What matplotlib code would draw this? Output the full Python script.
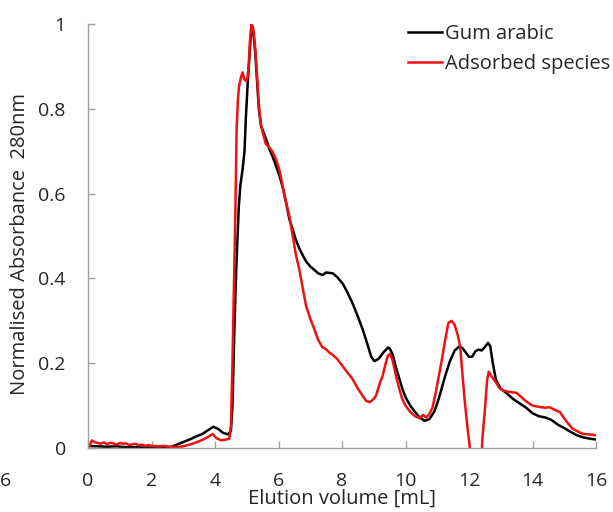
import numpy as np
import matplotlib.pyplot as plt

plt.rcParams['font.family'] = ['Open Sans', 'DejaVu Sans']

# elution profiles, normalised absorbance at 280 nm
vol_gum = [0.0, 0.3, 0.6, 0.9, 1.2, 1.5, 1.8, 2.1, 2.4, 2.6, 2.8, 3.0, 3.2, 3.4, 3.6, 3.8,
           3.95, 4.1, 4.25, 4.4, 4.5, 4.55, 4.6, 4.65, 4.7, 4.75, 4.8, 4.87, 4.93, 4.97,
           5.03, 5.08, 5.15, 5.2, 5.27, 5.33, 5.38, 5.45, 5.55, 5.65, 5.71, 5.8, 5.9, 6.03,
           6.15, 6.25, 6.34, 6.45, 6.55, 6.66, 6.76, 6.87, 7.0, 7.13, 7.25, 7.39, 7.5, 7.6,
           7.71, 7.85, 8.02, 8.15, 8.34, 8.5, 8.65, 8.8, 8.92, 9.02, 9.15, 9.3, 9.45, 9.5,
           9.6, 9.7, 9.8, 9.9, 10.0, 10.15, 10.3, 10.45, 10.6, 10.75, 10.9, 11.0, 11.1,
           11.25, 11.4, 11.55, 11.7, 11.8, 11.9, 12.0, 12.1, 12.2, 12.3, 12.4, 12.5, 12.6,
           12.67, 12.75, 12.85, 13.0, 13.2, 13.4, 13.6, 13.8, 14.0, 14.2, 14.4, 14.6, 14.8,
           15.0, 15.2, 15.4, 15.6, 15.8, 16.0]
abs_gum = [0.005, 0.004, 0.003, 0.004, 0.002, 0.002, 0.001, 0.001, 0.001, 0.002, 0.008,
           0.014, 0.020, 0.027, 0.033, 0.043, 0.050, 0.045, 0.036, 0.032, 0.040, 0.10, 0.25,
           0.38, 0.48, 0.57, 0.62, 0.658, 0.70, 0.776, 0.86, 0.917, 1.0, 0.985, 0.93, 0.86,
           0.80, 0.76, 0.74, 0.72, 0.705, 0.69, 0.67, 0.642, 0.61, 0.575, 0.54, 0.515, 0.49,
           0.47, 0.455, 0.44, 0.428, 0.42, 0.412, 0.408, 0.414, 0.413, 0.412, 0.403, 0.388,
           0.37, 0.34, 0.31, 0.28, 0.245, 0.215, 0.205, 0.21, 0.225, 0.237, 0.235, 0.22,
           0.19, 0.165, 0.14, 0.12, 0.10, 0.085, 0.072, 0.064, 0.068, 0.085, 0.105, 0.13,
           0.17, 0.205, 0.23, 0.24, 0.235, 0.225, 0.215, 0.215, 0.228, 0.232, 0.23, 0.238,
           0.248, 0.24, 0.20, 0.16, 0.14, 0.128, 0.115, 0.105, 0.095, 0.082, 0.075, 0.072,
           0.066, 0.055, 0.047, 0.038, 0.03, 0.025, 0.022, 0.02]

vol_ads = [0.0, 0.05, 0.12, 0.2, 0.3, 0.4, 0.5, 0.6, 0.7, 0.8, 0.9, 1.0, 1.1, 1.2, 1.3, 1.4,
           1.5, 1.6, 1.7, 1.8, 1.9, 2.0, 2.2, 2.4, 2.6, 2.8, 3.0, 3.2, 3.4, 3.6, 3.8, 3.92,
           4.05, 4.2, 4.35, 4.45, 4.5, 4.55, 4.6, 4.64, 4.68, 4.72, 4.76, 4.82, 4.87, 4.92,
           4.97, 5.02, 5.06, 5.1, 5.15, 5.2, 5.25, 5.29, 5.33, 5.37, 5.43, 5.5, 5.6, 5.7,
           5.8, 5.87, 5.95, 6.03, 6.1, 6.2, 6.34, 6.45, 6.55, 6.66, 6.78, 6.87, 7.0, 7.13,
           7.25, 7.38, 7.5, 7.6, 7.7, 7.85, 8.0, 8.15, 8.33, 8.5, 8.65, 8.75, 8.86, 8.95,
           9.07, 9.2, 9.28, 9.36, 9.44, 9.52, 9.6, 9.7, 9.8, 9.9, 10.0, 10.15, 10.3, 10.45,
           10.55, 10.65, 10.75, 10.85, 10.95, 11.05, 11.15, 11.25, 11.35, 11.45, 11.55,
           11.65, 11.72, 11.8, 11.86, 11.95, 12.02, 12.1, 12.38, 12.42, 12.5, 12.57, 12.62,
           12.7, 12.8, 12.97, 13.1, 13.3, 13.5, 13.65, 13.8, 14.0, 14.2, 14.4, 14.54, 14.7,
           14.86, 15.0, 15.15, 15.27, 15.45, 15.6, 15.8, 16.0]
abs_ads = [0.0, 0.005, 0.018, 0.014, 0.012, 0.010, 0.013, 0.009, 0.012, 0.011, 0.008,
           0.012, 0.010, 0.011, 0.007, 0.009, 0.010, 0.006, 0.008, 0.005, 0.007, 0.005,
           0.004, 0.005, 0.003, 0.002, 0.004, 0.008, 0.013, 0.019, 0.027, 0.033, 0.023,
           0.018, 0.02, 0.022, 0.05, 0.2, 0.4, 0.55, 0.75, 0.82, 0.855, 0.875, 0.886, 0.87,
           0.866, 0.872, 0.90, 0.96, 1.0, 0.99, 0.96, 0.92, 0.87, 0.82, 0.77, 0.745, 0.717,
           0.71, 0.70, 0.69, 0.675, 0.655, 0.63, 0.59, 0.548, 0.50, 0.455, 0.42, 0.37,
           0.335, 0.305, 0.28, 0.255, 0.238, 0.233, 0.225, 0.22, 0.21, 0.195, 0.18, 0.163,
           0.14, 0.123, 0.112, 0.108, 0.112, 0.123, 0.155, 0.17, 0.195, 0.217, 0.222, 0.205,
           0.17, 0.14, 0.115, 0.1, 0.085, 0.075, 0.07, 0.078, 0.072, 0.08, 0.095, 0.13,
           0.17, 0.21, 0.255, 0.295, 0.3, 0.29, 0.265, 0.24, 0.17, 0.115, 0.05, 0.005,
           -0.05, -0.05, 0.02, 0.09, 0.16, 0.18, 0.17, 0.16, 0.14, 0.135, 0.132, 0.13, 0.12,
           0.11, 0.10, 0.097, 0.095, 0.096, 0.09, 0.085, 0.07, 0.055, 0.045, 0.038, 0.033,
           0.032, 0.03]

x_ticks = [0, 2, 4, 6, 8, 10, 12, 14, 16]
y_ticks = [0, 0.2, 0.4, 0.6, 0.8, 1.0]
y_ticklabels = ['0', '0.2', '0.4', '0.6', '0.8', '1']

txt = '#262626'
axcol = '#a0a0a0'
fs = 14.5

fig = plt.figure(figsize=(6.13, 5.12), dpi=100)
ax = fig.add_axes([88 / 613, 1 - 448 / 512, 508 / 613, 424 / 512])

ax.plot(vol_gum, abs_gum, color='black', lw=1.8, label='Gum arabic')
ax.plot(vol_ads, abs_ads, color='#ee1111', lw=1.8, label='Adsorbed species')

ax.set_xlim(0, 16)
ax.set_ylim(0, 1)
ax.set_xticks(x_ticks)
ax.set_xticklabels([str(v) for v in x_ticks])
ax.set_yticks(y_ticks)
ax.set_yticklabels(y_ticklabels)

for s in ['top', 'right']:
    ax.spines[s].set_visible(False)
for s in ['left', 'bottom']:
    ax.spines[s].set_color(axcol)
    ax.spines[s].set_linewidth(1.0)

ax.tick_params(axis='both', direction='in', length=5, width=1.0, color=axcol,
               labelsize=14, labelcolor=txt)
ax.tick_params(axis='x', pad=17)
ax.tick_params(axis='y', pad=16)

ax.set_xlabel('Elution volume [mL]', fontsize=fs, color=txt)
ax.xaxis.set_label_coords(0.5, -0.097)
ax.set_ylabel('Normalised Absorbance  280nm', fontsize=fs, color=txt)
ax.yaxis.set_label_coords(-0.114, 0.48)

# leftover tick label at the far left edge
fig.text(0.0, 1 - 481 / 512, '6', fontsize=14, color=txt, ha='left', va='center')

ax.legend(loc='upper left', bbox_to_anchor=(408 / 613, 1 - 24 / 512),
          bbox_transform=fig.transFigure, frameon=False, fontsize=fs,
          handlelength=1.7, handletextpad=0.15, labelspacing=0.5,
          borderaxespad=0, borderpad=0, labelcolor=txt)

fig.savefig('out.png', dpi=100)
